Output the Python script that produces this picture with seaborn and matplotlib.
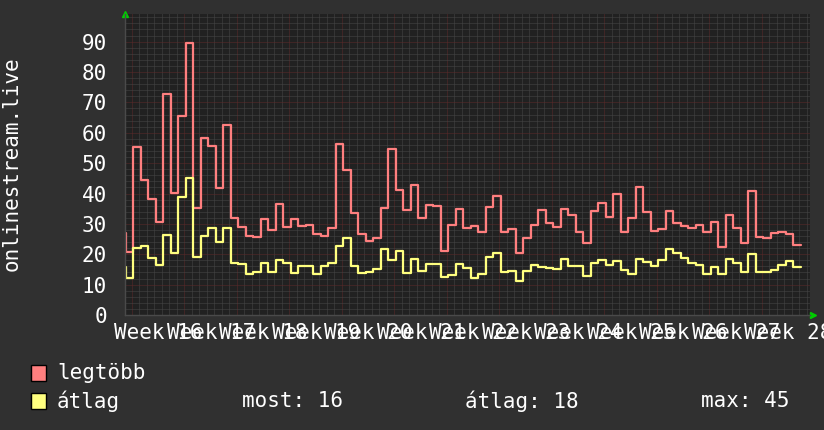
import numpy as np
import pandas as pd
import matplotlib
matplotlib.use("Agg")
import matplotlib.pyplot as plt
import seaborn as sns
from matplotlib.ticker import MultipleLocator
from matplotlib.patches import Rectangle
import matplotlib.transforms as mtransforms

# ---- data (daily values, first value is the one just before the visible window) ----
max_vals = [27.1, 20.9, 55.4, 44.5, 38.2, 30.7, 72.8, 40.3, 65.6, 89.7, 35.3, 58.4, 55.6, 41.9, 62.6, 31.9,
            29.1, 26.0, 25.8, 31.5, 28.0, 36.5, 29.1, 31.5, 29.3, 29.7, 26.8, 26.1, 28.8, 56.2, 47.7,
            33.7, 26.7, 24.5, 25.2, 35.3, 54.7, 41.2, 34.7, 42.8, 31.8, 36.2, 35.9, 21.1, 29.6, 34.9,
            28.5, 29.3, 27.3, 35.7, 39.2, 27.3, 28.4, 20.5, 25.5, 29.7, 34.6, 30.4, 29.1, 35.0, 33.0,
            27.2, 23.6, 34.4, 37.0, 32.3, 39.8, 27.2, 31.8, 42.0, 33.8, 27.8, 28.4, 34.4, 30.4, 29.4,
            28.5, 29.7, 27.4, 30.7, 22.3, 33.0, 28.5, 23.8, 40.9, 25.8, 25.2, 26.9, 27.4, 26.6, 23.0]
avg_vals = [15.9, 12.3, 22.2, 22.7, 18.9, 16.5, 26.3, 20.3, 39.0, 45.2, 19.2, 26.0, 28.5, 24.1, 28.5, 17.0,
            16.9, 13.6, 14.3, 17.2, 14.3, 18.1, 17.2, 13.9, 16.1, 16.1, 13.6, 16.1, 17.2, 22.7, 25.2,
            16.2, 13.9, 14.3, 15.1, 21.7, 18.1, 21.2, 13.9, 18.4, 14.6, 16.9, 16.7, 12.6, 13.3, 16.7,
            15.4, 12.3, 13.4, 19.2, 20.3, 14.0, 14.5, 11.3, 14.6, 16.5, 15.9, 15.6, 15.3, 18.4, 16.1,
            16.1, 12.9, 17.0, 18.1, 16.5, 17.8, 14.8, 13.5, 18.4, 17.6, 16.2, 18.1, 21.7, 20.5, 18.7,
            17.2, 16.5, 13.4, 15.9, 13.5, 18.5, 17.0, 14.3, 20.2, 14.3, 14.3, 14.7, 16.5, 17.8, 15.9]
week_labels = ["Week 16", "Week 17", "Week 18", "Week 19", "Week 20", "Week 21", "Week 22",
               "Week 23", "Week 24", "Week 25", "Week 26", "Week 27", "Week 28"]
series_names = ["legtöbb", "átlag"]
stat_texts = ["most: 16", "átlag: 18", "max: 45"]
y_title = "onlinestream.live"

# time in days relative to start of first labelled week
start_day = -1.8
n = len(max_vals)
days = start_day + np.arange(n + 1)
df = pd.DataFrame({
    "day": np.concatenate([days, days]),
    "value": np.concatenate([max_vals + [max_vals[-1]], avg_vals + [avg_vals[-1]]]),
    "series": [series_names[0]] * (n + 1) + [series_names[1]] * (n + 1),
})

BG = "#303030"
PLOT_BG = "#212121"
RED = "#ff7f7f"
YEL = "#ffff7f"

sns.set_style("dark")
plt.rcParams["font.family"] = ["DejaVu Sans Mono", "DejaVu Sans"]

fig = plt.figure(figsize=(8.24, 4.30), dpi=100, facecolor=BG)
W, H = 824, 430
ax = fig.add_axes([125 / W, 115 / H, 685 / W, 301 / H], facecolor=PLOT_BG)

sns.lineplot(data=df, x="day", y="value", hue="series", palette=[RED, YEL],
             drawstyle="steps-post", linewidth=1.6, ax=ax, legend=False, sort=False)

ax.set_xlim(-0.933, 90.4)
ax.set_ylim(0, 99.1)

# grid
ax.xaxis.set_major_locator(MultipleLocator(7))
ax.xaxis.set_minor_locator(MultipleLocator(1))
ax.yaxis.set_major_locator(MultipleLocator(10))
ax.yaxis.set_minor_locator(MultipleLocator(2))
ax.grid(which="minor", color="#474747", linestyle=(0, (1, 1)), linewidth=0.72)
ax.grid(which="major", color="#5e2a2a", linestyle=(0, (1, 1)), linewidth=0.72)
ax.set_axisbelow(True)

ax.tick_params(axis="x", which="both", length=0, labelbottom=False)
ax.tick_params(axis="y", which="major", length=0, pad=13, labelsize=15, labelcolor="white")
ax.tick_params(axis="y", which="minor", length=0)
ax.set_xlabel("")
ax.set_ylabel("")

for side in ["top", "right"]:
    ax.spines[side].set_visible(False)
for side in ["left", "bottom"]:
    ax.spines[side].set_color("#4a4a4a")
    ax.spines[side].set_linewidth(1)

# week labels, centered in each week
trans = mtransforms.blended_transform_factory(ax.transData, ax.transAxes)
for k, lab in enumerate(week_labels):
    ax.text(3.5 + 7 * k, -0.025, lab, transform=trans, ha="center", va="top",
            fontsize=15, color="white", clip_on=False)

# green arrows
ax.plot([0], [1.0], marker="^", color="#00cc00", markersize=5, transform=ax.transAxes, clip_on=False)
ax.plot([1.005], [0], marker=">", color="#00cc00", markersize=5, transform=ax.transAxes, clip_on=False)

# y title
fig.text(12 / W, 1 - 164 / H, y_title, rotation=90, ha="center", va="center",
         fontsize=15, color="white")

# legend
sq = [(RED, 373), (YEL, 401)]
for (col, yc), name in zip(sq, series_names):
    fig.patches.append(Rectangle((31 / W, 1 - (yc + 8) / H), 15 / W, 16 / H,
                                 transform=fig.transFigure, facecolor=col,
                                 edgecolor="black", linewidth=1))
    fig.text(57 / W, 1 - yc / H, name, ha="left", va="center", fontsize=15, color="white")
for xpos, txt in zip([242, 465, 701], stat_texts):
    fig.text(xpos / W, 1 - 401 / H, txt, ha="left", va="center", fontsize=15, color="white")

fig.savefig("out.png", dpi=100, facecolor=BG)
